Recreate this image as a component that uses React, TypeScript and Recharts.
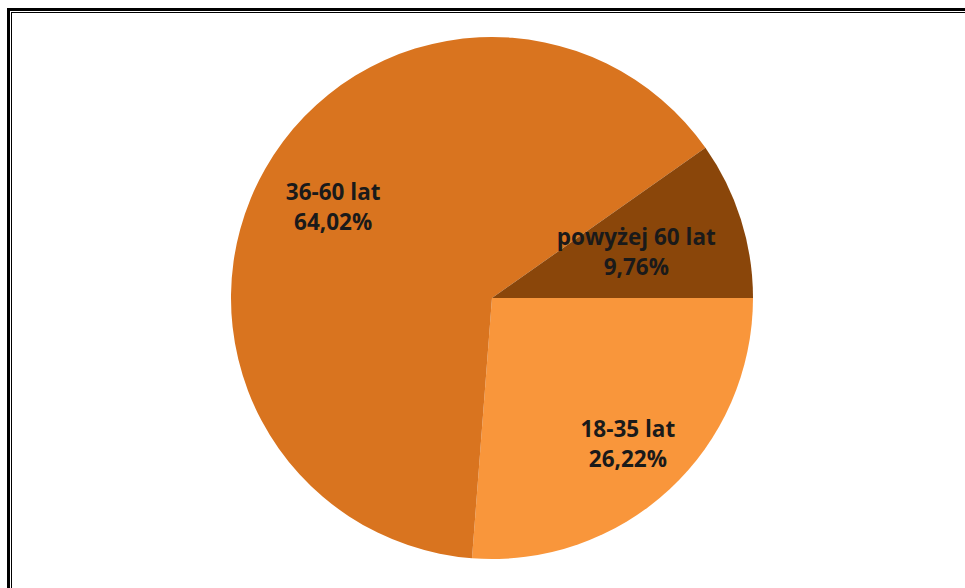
import React from "react";
import { PieChart, Pie, Cell } from "recharts";

const categories = ["18-35 lat", "36-60 lat", "powyżej 60 lat"];
const values = [26.22, 64.02, 9.76];
const percentLabels = ["26,22%", "64,02%", "9,76%"];

const sliceColors = ["#F9963B", "#D9741F", "#8A460A"];
const labelRadiusFractions = [0.766, 0.7, 0.58];

const data = categories.map((name, i) => ({ name, value: values[i], pct: percentLabels[i] }));

const RADIAN = Math.PI / 180;

const renderLabel = (props: any) => {
  const { cx, cy, midAngle, outerRadius, index } = props;
  const r = outerRadius * labelRadiusFractions[index];
  const x = cx + r * Math.cos(-midAngle * RADIAN);
  const y = cy + r * Math.sin(-midAngle * RADIAN);
  return (
    <text
      x={x}
      y={y - 7.5}
      textAnchor="middle"
      fill="#1a1a1a"
      fontFamily="'Open Sans', sans-serif"
      fontWeight={700}
      fontSize={22.5}
    >
      <tspan x={x} dy={0}>{data[index].name}</tspan>
      <tspan x={x} dy={30}>{data[index].pct}</tspan>
    </text>
  );
};

export default function App() {
  return (
    <div style={{ position: "absolute", left: 0, top: 0, width: 965, height: 588, background: "#fff", overflow: "hidden" }}>
      <div style={{ position: "absolute", left: 7, top: 8, width: 1000, height: 700, borderLeft: "3px solid #000", borderTop: "3px solid #000" }} />
      <div style={{ position: "absolute", left: 11, top: 12, width: 1000, height: 700, borderLeft: "1px solid #000", borderTop: "1px solid #000" }} />
      <div style={{ position: "absolute", left: 0, top: 0 }}>
        <PieChart width={965} height={588} margin={{ top: 0, right: 0, bottom: 0, left: 0 }}>
          <Pie
            data={data}
            dataKey="value"
            nameKey="name"
            cx={492}
            cy={298}
            outerRadius={261}
            startAngle={0}
            endAngle={-360}
            stroke="none"
            isAnimationActive={false}
            labelLine={false}
            label={renderLabel}
          >
            {data.map((d, i) => (
              <Cell key={d.name} fill={sliceColors[i]} />
            ))}
          </Pie>
        </PieChart>
      </div>
    </div>
  );
}
